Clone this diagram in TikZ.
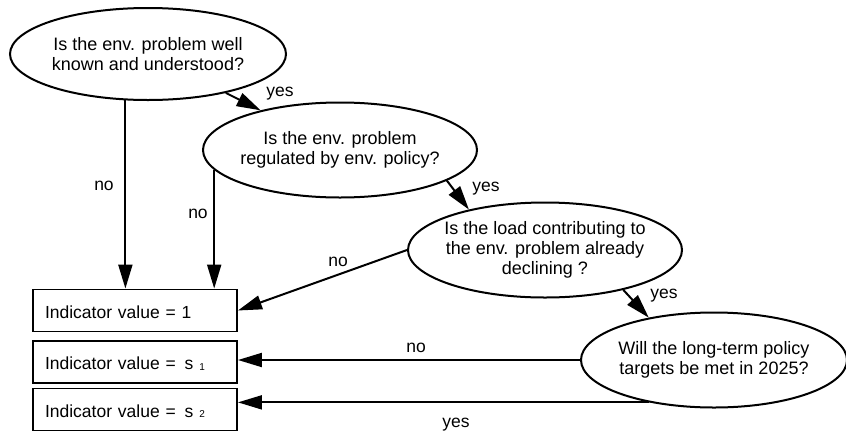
\documentclass[tikz,border=0pt]{standalone}
\usepackage{fontspec}
\setmainfont{Liberation Sans}
\usetikzlibrary{shapes.geometric,arrows.meta}

\newcommand{\subidx}[1]{\hspace{0.5em}s\hspace{0.35em}\raisebox{-0.5pt}{\fontsize{10}{10}\selectfont #1}}

\begin{document}
\begin{tikzpicture}[x=1pt,y=-1pt,
  question/.style={ellipse,draw,line width=2pt,inner sep=-30pt,align=center,
    font=\fontsize{18}{20}\selectfont},
  result/.style={draw,line width=1.9pt,minimum width=204pt,minimum height=42pt,
    text width=180pt,inner xsep=12pt,inner ysep=0pt,align=left,
    text height=15pt,text depth=0pt,font=\fontsize{17.5}{20}\selectfont},
  lbl/.style={inner sep=0pt,font=\fontsize{17.5}{20}\selectfont},
  arr/.style={line width=2pt,-{Triangle[length=24pt,width=14pt]}}]

\useasboundingbox (0,0) rectangle (846,437);
\clip (0,0) rectangle (846,437);

% decision questions
\node[question,minimum width=276pt,minimum height=92pt] (e1) at (148,54)
  {Is the env. problem well\\known and understood?};
\node[question,minimum width=274pt,minimum height=95pt] (e2) at (340,150)
  {Is the env. problem\\regulated by env. policy?};
\node[question,minimum width=274pt,minimum height=95pt] (e3) at (545,250)
  {Is the load contributing to\\the env. problem already\\declining ?};
\node[question,minimum width=266pt,minimum height=95pt] (e4) at (714,360)
  {Will the long-term policy\\targets be met in 2025?};

% outcomes
\node[result] (b1) at (135,310.5) {Indicator value = 1};
\node[result] (b2) at (135,362) {Indicator value =\subidx{1}};
\node[result] (b3) at (135,409.5) {Indicator value =\subidx{2}};

% connectors
\draw[arr] (e1.244) -- (e1.244 |- b1.north);
\draw[arr] (e2.189) -- (e2.189 |- b1.north);
\draw[arr] (e1) -- (e2);
\draw[arr] (e2.-16) -- (e3.152);
\draw[arr] (e3.west) -- (b1.east);
\draw[arr] (e3.-27) -- (e4.147);
\draw[arr] (e4.west) -- (e4.west -| b2.east);
\draw[arr] (e4.213) -- (e4.213 -| b3.east);

% branch labels
\node[lbl] (n1) at (104,186) {no};
\node[lbl] (n2) at (198,214) {no};
\node[lbl] (n3) at (338,262) {no};
\node[lbl] (n4) at (416,348) {no};
\node[lbl] (y1) at (280,94) {yes};
\node[lbl] (y2) at (486,189) {yes};
\node[lbl] (y3) at (664,296) {yes};
\node[lbl] (y4) at (456,425) {yes};
\end{tikzpicture}
\end{document}
